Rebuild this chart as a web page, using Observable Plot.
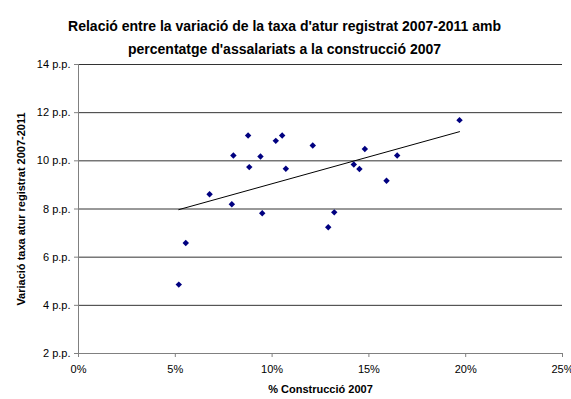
<!DOCTYPE html>
<html>
<head>
<meta charset="utf-8">
<script src="https://cdn.jsdelivr.net/npm/d3@7"></script>
<script src="https://cdn.jsdelivr.net/npm/@observablehq/plot@0.6"></script>
<style>
  html, body { margin: 0; padding: 0; background: #fff; }
  svg { font-family: "Liberation Sans", Arial, sans-serif; }
</style>
</head>
<body>
<div id="chart"></div>
<script>
const titleLines = ["Relació entre la variació de la taxa d'atur registrat 2007-2011 amb", "percentatge d'assalariats a la construcció 2007"];
const xLabel = "% Construcció 2007";
const yLabel = "Variació taxa atur registrat 2007-2011";
const xTicks = [0, 5, 10, 15, 20, 25];
const yTicks = [2, 4, 6, 8, 10, 12, 14];
const construccio = [5.18, 5.54, 6.77, 7.92, 8.0, 8.76, 8.82, 9.40, 9.49, 10.19, 10.52, 10.71, 12.10, 12.90, 13.21, 14.22, 14.51, 14.79, 15.91, 16.46, 19.68];
const variacio   = [4.86, 6.59, 8.61, 8.20, 10.22, 11.05, 9.74, 10.18, 7.82, 10.83, 11.05, 9.67, 10.64, 7.24, 7.86, 9.85, 9.66, 10.49, 9.17, 10.22, 11.69];

const data = construccio.map((x, i) => ({x, y: variacio[i]}));

const chart = Plot.plot({
  width: 571,
  height: 399,
  marginTop: 64,
  marginBottom: 46,
  marginLeft: 78,
  marginRight: 9,
  style: {fontFamily: "'Liberation Sans', Arial, sans-serif", fontSize: "11px", color: "#000", background: "#fff"},
  x: {domain: [0, 25], ticks: xTicks, tickFormat: d => d + "%", label: null},
  y: {domain: [2, 14], ticks: yTicks, tickFormat: d => d + " p.p.", label: null},
  marks: [
    Plot.gridY(yTicks.filter(d => d > 2), {stroke: "#333", strokeOpacity: 1, strokeWidth: 1}),
    Plot.ruleY([2], {stroke: "#808080"}),
    Plot.ruleX([0], {stroke: "#808080"}),
    Plot.axisX(xTicks, {tickSize: 4, tickPadding: 8, stroke: "#808080", fontSize: 11, tickFormat: d => d + "%"}),
    Plot.axisY(yTicks, {tickSize: 4, tickPadding: 4, stroke: "#808080", fontSize: 11, tickFormat: d => d + " p.p."}),
    Plot.linearRegressionY(data, {x: "x", y: "y", ci: 0, stroke: "#000", strokeWidth: 1}),
    Plot.dot(data, {x: "x", y: "y", symbol: "diamond2", r: 2.9, fill: "#000080", stroke: "none"}),
    Plot.text([titleLines[0]], {frameAnchor: "top", text: d => d, dy: -43, dx: -36, fontSize: 14, fontWeight: "bold"}),
    Plot.text([titleLines[1]], {frameAnchor: "top", text: d => d, dy: -20, dx: -36, fontSize: 14, fontWeight: "bold"}),
    Plot.text([xLabel], {frameAnchor: "bottom", text: d => d, dy: 39, fontSize: 11, fontWeight: "bold"}),
    Plot.text([yLabel], {frameAnchor: "left", text: d => d, dx: -57, rotate: -90, textAnchor: "middle", fontSize: 11, fontWeight: "bold"})
  ]
});
document.getElementById("chart").appendChild(chart);
</script>
</body>
</html>
